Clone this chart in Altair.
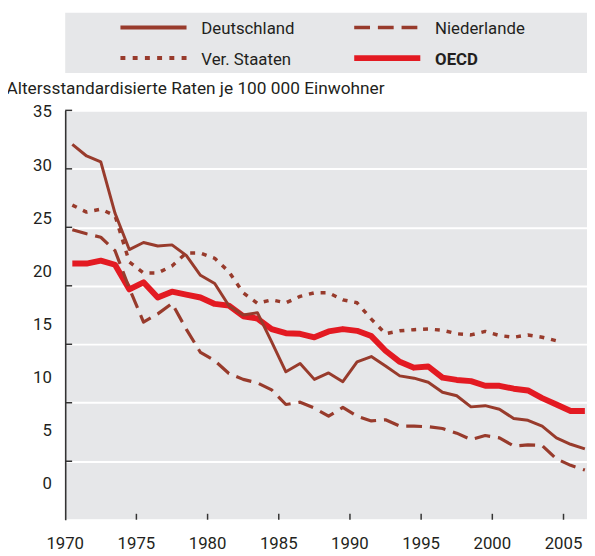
import altair as alt
import pandas as pd

# ---------------- data ----------------
years = list(range(1970, 2007))
deutschland = [32.1, 31.1, 30.6, 26.2, 23.1, 23.7, 23.4, 23.5, 22.6, 20.9,
               20.2, 18.3, 17.5, 17.7, 15.2, 12.65, 13.35, 12.0, 12.55, 11.8,
               13.5, 13.95, 13.15, 12.3, 12.1, 11.75, 10.9, 10.6, 9.65, 9.75,
               9.45, 8.65, 8.5, 8.0, 7.0, 6.45, 6.05]
niederlande = [24.8, 24.45, 24.15, 23.0, 19.8, 16.9, 17.6, 18.5, 16.3, 14.3,
               13.6, 12.5, 12.0, 11.7, 11.1, 9.85, 10.05, 9.55, 8.85, 9.6,
               8.85, 8.45, 8.55, 8.0, 8.0, 7.95, 7.8, 7.4, 6.85, 7.2,
               7.0, 6.3, 6.4, 6.35, 5.2, 4.65, 4.25]
ver_staaten = [26.9, 26.3, 26.55, 26.0, 22.05, 21.1, 21.1, 21.7, 22.8, 22.8,
               22.35, 21.2, 19.4, 18.5, 18.8, 18.55, 19.1, 19.4, 19.4, 18.8,
               18.55, 17.15, 15.9, 16.15, 16.25, 16.3, 16.2, 15.9, 15.8, 16.1,
               15.75, 15.6, 15.8, 15.6, 15.3]
oecd = [21.9, 21.9, 22.15, 21.8, 19.7, 20.3, 19.0, 19.5, 19.25, 19.0,
        18.45, 18.3, 17.4, 17.2, 16.3, 15.95, 15.9, 15.6, 16.1, 16.3,
        16.15, 15.7, 14.45, 13.5, 13.0, 13.1, 12.15, 11.95, 11.85, 11.45,
        11.45, 11.2, 11.05, 10.4, 9.85, 9.3, 9.3]

series = ["Deutschland", "Niederlande", "Ver. Staaten", "OECD"]
values = [deutschland, niederlande, ver_staaten, oecd]

x_ticks = [1970, 1975, 1980, 1985, 1990, 1995, 2000, 2005]
x_labels = ["1970", "1975", "1980", "1985", "1990", "1995", "2000", "2005"]
y_ticks = [0, 5, 10, 15, 20, 25, 30, 35]
y_title = "Altersstandardisierte Raten je 100 000 Einwohner"

# ---------------- styles ----------------
FONT = "Roboto"
FS = 17
TXT = "#231f20"
BROWN = "#983b2c"
RED = "#e31a22"
BG = "#e6e7e9"
AX = "#333333"
W, H = 529, 415

style = {
    "Deutschland": dict(color=BROWN, strokeWidth=3),
    "Niederlande": dict(color=BROWN, strokeWidth=3.2, strokeDash=[16, 8]),
    "Ver. Staaten": dict(color=BROWN, strokeWidth=3.5, strokeDash=[5, 7]),
    "OECD": dict(color=RED, strokeWidth=6),
}
legend_style = {
    "Deutschland": dict(color=BROWN, strokeWidth=4),
    "Niederlande": dict(color=BROWN, strokeWidth=3.5, strokeDash=[16, 8]),
    "Ver. Staaten": dict(color=BROWN, strokeWidth=4, strokeDash=[5, 7.4]),
    "OECD": dict(color=RED, strokeWidth=6),
}
legend_pos = {  # (symbol x0, x1, symbol y, text x, text baseline y) relative to plot
    "Deutschland": (56, 123, -84, 138, -77),
    "Niederlande": (293, 359, -84, 375, -77),
    "Ver. Staaten": (56, 123, -53, 138, -46),
    "OECD": (293, 360, -53, 375, -46),
}

x_scale = alt.Scale(domain=[1970, 2006.65], nice=False, zero=False)
y_scale = alt.Scale(domain=[0, 35], nice=False, zero=False)
lab_scale = alt.Scale(domain=[-3.37, 35.16], nice=False, zero=False)

rows = []
for name, vals in zip(series, values):
    for yr, v in zip(years, vals):
        rows.append({"series": name, "year": yr, "value": v})
df = pd.DataFrame(rows)

layers = []

# legend box
box = alt.Chart(pd.DataFrame({"k": [0]})).mark_rect(color=BG).encode(
    x=alt.value(0), x2=alt.value(W), y=alt.value(-99), y2=alt.value(-38))
layers.append(box)

# axis-carrying layer (invisible) with grid and domain lines
axis_layer = alt.Chart(df).mark_point(opacity=0).encode(
    x=alt.X("year:Q", scale=x_scale,
            axis=alt.Axis(orient="bottom", values=x_ticks, title=None,
                          grid=True, gridColor="white", gridWidth=2,
                          ticks=False, labels=False,
                          domain=True, domainColor=AX, domainWidth=1.6)),
    y=alt.Y("value:Q", scale=y_scale,
            axis=alt.Axis(orient="left", values=y_ticks, title=None, grid=True,
                          gridColor="white", gridWidth=2, ticks=False,
                          labels=False, domain=True, domainColor=AX,
                          domainWidth=1.6)),
)
layers.append(axis_layer)

# inward ticks
yt = alt.Chart(pd.DataFrame({"v": y_ticks[1:]})).mark_rule(
    color=AX, strokeWidth=1.5).encode(
    y=alt.Y("v:Q", scale=y_scale, axis=None), x=alt.value(0), x2=alt.value(7))
xt = alt.Chart(pd.DataFrame({"yr": x_ticks[1:]})).mark_rule(
    color=AX, strokeWidth=1.5).encode(
    x=alt.X("yr:Q", scale=x_scale, axis=None), y=alt.value(H), y2=alt.value(H - 6))
layers += [yt, xt]

# x tick labels
xl = alt.Chart(pd.DataFrame({"yr": x_ticks, "lbl": x_labels})).mark_text(
    font=FONT, fontSize=FS, color=TXT, align="center", baseline="alphabetic").encode(
    x=alt.X("yr:Q", scale=x_scale, axis=None), y=alt.value(H + 30), text="lbl:N")
layers.append(xl)

# data lines (OECD underneath the national series)
for name in ["OECD", "Ver. Staaten", "Niederlande", "Deutschland"]:
    ln = alt.Chart(df).transform_filter(
        alt.datum.series == name
    ).transform_calculate(xpos="datum.year + 0.5").mark_line(
        strokeCap="butt", strokeJoin="round", **style[name]).encode(
        x=alt.X("xpos:Q", scale=x_scale, axis=None),
        y=alt.Y("value:Q", scale=y_scale, axis=None),
        order="year:Q")
    layers.append(ln)

# manual legend
for name in series:
    x0, x1, sy, tx, ty = legend_pos[name]
    d = pd.DataFrame({"label": [name]})
    sym = alt.Chart(d).mark_rule(strokeCap="butt", **legend_style[name]).encode(
        x=alt.value(x0), x2=alt.value(x1), y=alt.value(sy))
    txt = alt.Chart(d).mark_text(
        align="left", baseline="alphabetic", font=FONT, fontSize=FS, color=TXT,
        fontWeight="bold" if name == "OECD" else "normal").encode(
        x=alt.value(tx), y=alt.value(ty), text="label:N")
    layers += [sym, txt]

# y labels (as printed in the source) + axis title
lab = alt.Chart(pd.DataFrame({"v": y_ticks})).mark_point(opacity=0).encode(
    y=alt.Y("v:Q", scale=lab_scale,
            axis=alt.Axis(orient="left", values=y_ticks, domain=False, ticks=False,
                          grid=False, labelPadding=14,
                          labelFont=FONT, labelFontSize=FS, labelColor=TXT,
                          title=y_title, titleAngle=0, titleX=-60, titleY=-22,
                          titleAlign="left", titleBaseline="middle",
                          titleFont=FONT, titleFontSize=17.5,
                          titleFontWeight="normal", titleColor=TXT)))
layers.append(lab)

chart = alt.layer(*layers).resolve_scale(y="independent").properties(
    width=W, height=H,
    autosize=alt.AutoSizeParams(type="none"),
    padding={"left": 58, "top": 100, "right": 0, "bottom": 33},
).configure_view(fill=BG, strokeWidth=0)

chart.save("out.html", embed_options={"renderer": "svg", "actions": False})
